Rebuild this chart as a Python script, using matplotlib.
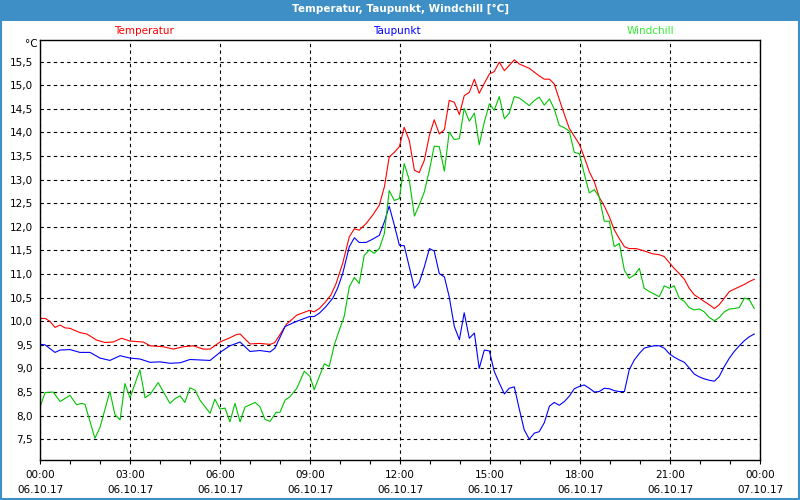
import matplotlib
matplotlib.use("Agg")
import matplotlib.pyplot as plt
from matplotlib.patches import Rectangle
from matplotlib.ticker import FixedLocator, MultipleLocator, FuncFormatter

# Stunden seit 06.10.17 00:00 und Werte in °C
temp_h = [0.00, 0.17, 0.33, 0.50, 0.67, 0.83, 1.00, 1.33, 1.56, 1.89, 2.17, 2.44,
          2.72, 3.00, 3.22, 3.44, 3.67, 4.11, 4.44, 4.78, 5.11, 5.44, 5.67, 6.00,
          6.33, 6.56, 6.67, 7.00, 7.33, 7.67, 7.83, 8.22, 8.56, 8.98, 9.14, 9.31,
          9.53, 9.70, 9.87, 10.09, 10.31, 10.48, 10.64, 10.87, 11.09, 11.31, 11.48,
          11.64, 11.81, 11.98, 12.14, 12.31, 12.48, 12.64, 12.81, 12.98, 13.14,
          13.31, 13.48, 13.64, 13.81, 13.98, 14.14, 14.31, 14.48, 14.64, 14.81,
          14.98, 15.14, 15.31, 15.48, 15.64, 15.81, 15.98, 16.31, 16.64, 16.81,
          16.98, 17.14, 17.31, 17.48, 17.64, 17.81, 17.98, 18.14, 18.31, 18.48,
          18.64, 18.81, 18.98, 19.14, 19.31, 19.48, 19.64, 19.87, 20.14, 20.42,
          20.64, 20.81, 20.98, 21.14, 21.31, 21.48, 21.64, 21.81, 21.98, 22.14,
          22.31, 22.48, 22.64, 22.81, 22.98, 23.14, 23.31, 23.48, 23.64, 23.81]
temp_c = [10.06, 10.06, 10.00, 9.87, 9.92, 9.86, 9.85, 9.76, 9.73, 9.60, 9.55, 9.56,
          9.64, 9.58, 9.57, 9.56, 9.48, 9.46, 9.41, 9.46, 9.48, 9.41, 9.41, 9.56,
          9.65, 9.72, 9.73, 9.52, 9.53, 9.51, 9.55, 9.94, 10.13, 10.23, 10.20, 10.27,
          10.42, 10.56, 10.80, 11.23, 11.79, 11.96, 11.93, 12.07, 12.25, 12.46, 12.85,
          13.48, 13.58, 13.70, 14.11, 13.83, 13.20, 13.15, 13.41, 13.94, 14.27,
          13.97, 14.06, 14.68, 14.64, 14.38, 14.78, 14.85, 15.13, 14.83, 15.04,
          15.24, 15.29, 15.49, 15.31, 15.42, 15.54, 15.45, 15.36, 15.20, 15.13,
          15.13, 15.03, 14.70, 14.38, 14.09, 13.92, 13.75, 13.48, 13.17, 12.95,
          12.63, 12.44, 12.21, 11.94, 11.75, 11.58, 11.54, 11.54, 11.49, 11.43,
          11.41, 11.37, 11.24, 11.12, 11.01, 10.89, 10.70, 10.56, 10.49, 10.42,
          10.35, 10.27, 10.35, 10.49, 10.63, 10.68, 10.73, 10.78, 10.84, 10.89]

dew_h = [0.00, 0.17, 0.50, 0.67, 1.00, 1.33, 1.67, 2.00, 2.33, 2.67, 3.00, 3.33,
         3.67, 4.00, 4.33, 4.67, 5.00, 5.33, 5.67, 6.00, 6.33, 6.67, 7.00, 7.33,
         7.67, 7.83, 8.17, 8.56, 8.98, 9.14, 9.31, 9.53, 9.76, 9.92, 10.09, 10.31,
         10.48, 10.64, 10.87, 11.09, 11.31, 11.48, 11.64, 11.81, 11.98, 12.14,
         12.31, 12.48, 12.64, 12.81, 12.98, 13.14, 13.31, 13.48, 13.64, 13.81,
         13.98, 14.14, 14.31, 14.48, 14.64, 14.81, 14.98, 15.14, 15.31, 15.48,
         15.64, 15.81, 15.98, 16.14, 16.31, 16.48, 16.64, 16.81, 16.98, 17.14,
         17.31, 17.48, 17.64, 17.81, 17.98, 18.14, 18.31, 18.48, 18.64, 18.81,
         18.98, 19.14, 19.31, 19.48, 19.64, 19.81, 19.98, 20.14, 20.31, 20.48,
         20.64, 20.81, 20.98, 21.14, 21.31, 21.48, 21.64, 21.81, 21.98, 22.14,
         22.31, 22.48, 22.64, 22.81, 22.98, 23.14, 23.31, 23.48, 23.64, 23.81]
dew_c = [9.51, 9.50, 9.34, 9.39, 9.40, 9.34, 9.34, 9.22, 9.17, 9.27, 9.22, 9.20,
         9.13, 9.14, 9.11, 9.12, 9.19, 9.18, 9.17, 9.34, 9.48, 9.56, 9.36, 9.38,
         9.35, 9.43, 9.89, 10.00, 10.10, 10.10, 10.17, 10.31, 10.49, 10.70, 11.01,
         11.58, 11.77, 11.67, 11.67, 11.74, 11.82, 12.11, 12.44, 12.04, 11.61,
         11.60, 11.15, 10.70, 10.82, 11.15, 11.54, 11.49, 11.01, 10.94, 10.52,
         9.89, 9.61, 10.18, 9.64, 9.75, 9.00, 9.39, 9.37, 8.94, 8.69, 8.46, 8.58,
         8.61, 8.13, 7.70, 7.50, 7.63, 7.66, 7.85, 8.20, 8.28, 8.22, 8.30, 8.41,
         8.57, 8.62, 8.65, 8.58, 8.50, 8.51, 8.58, 8.57, 8.53, 8.51, 8.51, 8.97,
         9.18, 9.32, 9.43, 9.46, 9.48, 9.48, 9.43, 9.31, 9.24, 9.18, 9.13, 9.01,
         8.88, 8.82, 8.78, 8.75, 8.73, 8.83, 9.04, 9.22, 9.36, 9.48, 9.59, 9.67, 9.73]

wc_h = [0.00, 0.17, 0.44, 0.67, 1.00, 1.22, 1.39, 1.50, 1.83, 2.00, 2.33, 2.50,
        2.67, 2.83, 3.00, 3.33, 3.50, 3.67, 3.94, 4.33, 4.50, 4.67, 4.83, 5.00,
        5.17, 5.33, 5.67, 5.83, 6.00, 6.17, 6.33, 6.50, 6.67, 6.83, 7.17, 7.33,
        7.50, 7.67, 7.87, 8.00, 8.17, 8.33, 8.56, 8.81, 9.00, 9.14, 9.31, 9.48,
        9.64, 9.81, 9.98, 10.14, 10.31, 10.48, 10.64, 10.81, 10.98, 11.14, 11.31,
        11.48, 11.64, 11.81, 11.98, 12.14, 12.31, 12.48, 12.64, 12.81, 12.98,
        13.14, 13.31, 13.48, 13.64, 13.81, 13.98, 14.14, 14.31, 14.48, 14.64,
        14.81, 14.98, 15.14, 15.31, 15.48, 15.64, 15.81, 15.98, 16.31, 16.48,
        16.64, 16.81, 16.98, 17.14, 17.31, 17.48, 17.64, 17.81, 17.98, 18.14,
        18.31, 18.48, 18.64, 18.81, 18.98, 19.14, 19.31, 19.48, 19.64, 19.81,
        19.98, 20.14, 20.31, 20.64, 20.81, 20.98, 21.14, 21.31, 21.48, 21.64,
        21.81, 21.98, 22.14, 22.31, 22.48, 22.64, 22.81, 22.98, 23.14, 23.31,
        23.48, 23.64, 23.81]
wc_c = [8.18, 8.49, 8.50, 8.30, 8.43, 8.23, 8.26, 8.24, 7.52, 7.75, 8.51, 8.02,
        7.91, 8.68, 8.38, 8.97, 8.38, 8.45, 8.70, 8.26, 8.36, 8.42, 8.28, 8.59,
        8.54, 8.33, 8.05, 8.35, 8.14, 8.16, 7.87, 8.26, 7.87, 8.18, 8.28, 8.19,
        7.92, 7.88, 8.07, 8.07, 8.33, 8.40, 8.58, 8.94, 8.83, 8.55, 8.83, 9.10,
        9.04, 9.50, 9.82, 10.10, 10.73, 10.93, 10.80, 11.40, 11.51, 11.44, 11.54,
        11.86, 12.77, 12.56, 12.60, 13.34, 12.99, 12.23, 12.46, 12.74, 13.20,
        13.71, 13.70, 13.18, 14.01, 13.85, 13.87, 14.51, 14.24, 14.41, 13.74,
        14.22, 14.61, 14.47, 14.76, 14.29, 14.41, 14.76, 14.73, 14.57, 14.68,
        14.75, 14.58, 14.71, 14.50, 14.15, 14.10, 14.03, 13.58, 13.55, 13.13,
        12.72, 12.79, 12.63, 12.12, 12.12, 11.58, 11.65, 11.08, 10.91, 10.98,
        11.12, 10.70, 10.63, 10.52, 10.75, 10.70, 10.75, 10.49, 10.42, 10.29,
        10.24, 10.26, 10.20, 10.08, 10.01, 10.08, 10.20, 10.26, 10.27, 10.29,
        10.49, 10.46, 10.27]

x_major = [0, 3, 6, 9, 12, 15, 18, 21, 24]
x_labels = ["00:00\n06.10.17", "03:00\n06.10.17", "06:00\n06.10.17",
            "09:00\n06.10.17", "12:00\n06.10.17", "15:00\n06.10.17",
            "18:00\n06.10.17", "21:00\n06.10.17", "00:00\n07.10.17"]
y_ticks = [7.5, 8.0, 8.5, 9.0, 9.5, 10.0, 10.5, 11.0, 11.5, 12.0, 12.5,
           13.0, 13.5, 14.0, 14.5, 15.0, 15.5]

BAR = "#3d8fc6"
FS = 7.5
plt.rcParams["font.family"] = ["DejaVu Sans"]

fig = plt.figure(figsize=(8, 5), dpi=100)
fig.patch.set_facecolor("white")

# Titelleiste und Rahmen
fig.add_artist(Rectangle((0, 1 - 21 / 500), 1, 21 / 500, transform=fig.transFigure,
                         facecolor=BAR, edgecolor="none"))
fig.add_artist(Rectangle((0.001, 0.002), 0.9975, 0.99, transform=fig.transFigure,
                         facecolor="none", edgecolor=BAR, lw=1.5))
fig.text(0.5, 1 - 9 / 500, "Temperatur, Taupunkt, Windchill [°C]", color="white",
         ha="center", va="center", fontsize=FS, fontweight="bold")

fig.text(144 / 800, 1 - 31 / 500, "Temperatur", color="#ff0000", ha="center",
         va="center", fontsize=FS)
fig.text(397 / 800, 1 - 31 / 500, "Taupunkt", color="#0000ff", ha="center",
         va="center", fontsize=FS)
fig.text(650 / 800, 1 - 31 / 500, "Windchill", color="#33ee33", ha="center",
         va="center", fontsize=FS)
fig.text(38 / 800, 1 - 44 / 500, "°C", ha="right", va="center", fontsize=FS)

ax = fig.add_axes([40 / 800, 40 / 500, 720 / 800, 420 / 500])
ax.plot(temp_h, temp_c, color="#ff0000", lw=0.8)
ax.plot(dew_h, dew_c, color="#0000ff", lw=0.8)
ax.plot(wc_h, wc_c, color="#00c400", lw=0.8)

ax.set_xlim(0, 24)
ax.set_ylim(7.06, 15.96)
ax.xaxis.set_major_locator(FixedLocator(x_major))
ax.xaxis.set_minor_locator(MultipleLocator(1))
ax.set_xticklabels(x_labels, fontsize=FS, linespacing=1.65)
ax.yaxis.set_major_locator(FixedLocator(y_ticks))
ax.yaxis.set_major_formatter(FuncFormatter(lambda v, p: f"{v:.1f}".replace(".", ",")))
ax.tick_params(axis="x", which="both", direction="out", length=3, width=0.8,
               pad=4, labelsize=FS)
ax.tick_params(axis="y", length=0, pad=5, labelsize=FS)
ax.grid(True, which="major", color="black", ls=(0, (3, 3)), lw=0.8)
for s in ax.spines.values():
    s.set_linewidth(1.0)

plt.savefig("out.png", dpi=100)
